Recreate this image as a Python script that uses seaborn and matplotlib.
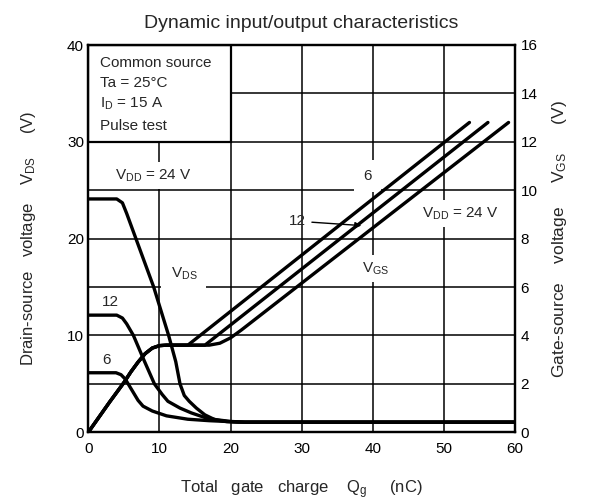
import matplotlib
matplotlib.use("Agg")
import matplotlib.pyplot as plt
from matplotlib.patches import Rectangle
import seaborn as sns

# gate charge (nC) / drain-source voltage (V), one curve per VDD
vds_24_qg = [0, 4.0, 4.8, 5.4, 6.3, 7.2, 9.2, 11.3, 12.3, 12.9, 13.5, 14.2, 15.2, 16.4, 17.8, 19.5, 21, 60]
vds_24_v = [24.1, 24.1, 23.7, 22.6, 20.8, 19.0, 15.0, 10.0, 7.3, 5.0, 3.8, 3.2, 2.5, 1.8, 1.3, 1.1, 1.05, 1.05]

vds_12_qg = [0, 4.0, 4.8, 5.4, 6.35, 7.8, 9.3, 10.4, 11.2, 12.9, 14.5, 16.5, 18, 20, 22, 60]
vds_12_v = [12.1, 12.1, 11.8, 11.2, 10.0, 7.5, 5.0, 3.9, 3.2, 2.5, 2.0, 1.5, 1.3, 1.12, 1.05, 1.05]

vds_6_qg = [0, 3.9, 4.6, 5.2, 6.1, 7.0, 7.7, 9.0, 11.0, 14.0, 17.0, 20.0, 22, 60]
vds_6_v = [6.15, 6.15, 5.95, 5.5, 4.4, 3.3, 2.7, 2.2, 1.7, 1.35, 1.2, 1.1, 1.05, 1.05]

# gate charge (nC) / gate-source voltage (V)
vgs_6_qg = [0, 3, 5, 6, 7, 8, 9, 10, 11, 14.0, 53.6]
vgs_6_v = [0, 1.25, 2.05, 2.5, 2.9, 3.25, 3.48, 3.58, 3.6, 3.6, 12.8]

vgs_12_qg = [0, 3, 5, 6, 7, 8, 9, 10, 11, 16.4, 56.2]
vgs_12_v = [0, 1.25, 2.05, 2.5, 2.9, 3.25, 3.48, 3.58, 3.6, 3.6, 12.8]

vgs_24_qg = [0, 3, 5, 6, 7, 8, 9, 10, 11, 17.0, 18.5, 20.0, 21.5, 59.1]
vgs_24_v = [0, 1.25, 2.05, 2.5, 2.9, 3.25, 3.48, 3.58, 3.6, 3.6, 3.68, 3.9, 4.22, 12.8]

x_ticks = [0, 10, 20, 30, 40, 50, 60]
vds_ticks = [0, 5, 10, 15, 20, 25, 30, 35, 40]
vds_labels = ["0", "", "10", "", "20", "", "30", "", "40"]
vgs_ticks = [0, 2, 4, 6, 8, 10, 12, 14, 16]

sns.set_style("white")
plt.rcParams["font.family"] = ["Liberation Sans", "DejaVu Sans"]
plt.rcParams["mathtext.fontset"] = "custom"
plt.rcParams["mathtext.rm"] = "Liberation Sans"
plt.rcParams["mathtext.it"] = "Liberation Sans"
plt.rcParams["font.size"] = 11

fig = plt.figure(figsize=(6.03, 5.0), dpi=100)
ax = fig.add_axes([0.1464, 0.1354, 0.7076, 0.7746])

lw_curve = 2.4
for qg, v in [(vds_24_qg, vds_24_v), (vds_12_qg, vds_12_v), (vds_6_qg, vds_6_v)]:
    sns.lineplot(x=qg, y=v, ax=ax, color="k", lw=lw_curve, sort=False, estimator=None, zorder=4)

ax.set_xlim(0, 60)
ax.set_ylim(0, 40)
ax.set_xticks(x_ticks)
ax.set_yticks(vds_ticks)
ax.set_yticklabels(vds_labels)
ax.grid(True, color="k", lw=1.1)
ax.tick_params(length=0, labelsize=11, colors="k")
ax.tick_params(axis="x", pad=7)
ax.tick_params(axis="y", pad=3)
for s in ax.spines.values():
    s.set_color("k")
    s.set_linewidth(1.6)

# condition box in the upper left corner
ax.add_patch(Rectangle((0, 30), 20, 10, facecolor="white", edgecolor="k", lw=1.6, zorder=2))
box_lines = ["Common source", "Ta = 25°C", r"$\mathrm{I_D}$ = 15 A", "Pulse test"]
for txt, yb in zip(box_lines, [37.75, 35.7, 33.5, 31.2]):
    ax.text(1.65, yb, txt, fontsize=11, va="baseline", ha="left", zorder=5)

wbox = dict(facecolor="white", edgecolor="none", boxstyle="square,pad=0.35")
ax.text(9.1, 26.5, r"$\mathrm{V_{DD}}$ = 24 V", ha="center", va="center", bbox=wbox, zorder=3)
ax.text(13.45, 16.4, r"$\mathrm{V_{DS}}$", ha="center", va="center",
        bbox=dict(facecolor="white", edgecolor="none", boxstyle="square,pad=0.6"), zorder=3)
ax.text(3.1, 13.5, "12", ha="center", va="center", zorder=3)
ax.text(2.5, 7.5, "6", ha="center", va="center", zorder=3)
ax.text(39.3, 26.5, "6", ha="center", va="center",
        bbox=dict(facecolor="white", edgecolor="none", boxstyle="square,pad=0.6"), zorder=3)
ax.text(52.3, 22.6, r"$\mathrm{V_{DD}}$ = 24 V", ha="center", va="center", bbox=wbox, zorder=3)
ax.text(40.4, 16.9, r"$\mathrm{V_{GS}}$", ha="center", va="center", bbox=wbox, zorder=3)
ax.annotate("12", xy=(38.4, 21.35), xytext=(29.4, 21.8), ha="center", va="center",
            arrowprops=dict(arrowstyle="-|>", color="k", lw=1.0, mutation_scale=9,
                            shrinkA=2, shrinkB=0), zorder=6)

ax.set_title("Dynamic input/output characteristics", fontsize=14, pad=12)
ax.set_xlabel(r"Total   gate   charge    $\mathrm{Q_g}$     (nC)", fontsize=12, labelpad=16)
ax.set_ylabel(r"Drain-source   voltage    $\mathrm{V_{DS}}$     (V)", fontsize=12, labelpad=21)

ax2 = ax.twinx()
for qg, v in [(vgs_6_qg, vgs_6_v), (vgs_12_qg, vgs_12_v), (vgs_24_qg, vgs_24_v)]:
    sns.lineplot(x=qg, y=v, ax=ax2, color="k", lw=lw_curve, sort=False, estimator=None)
ax2.set_ylim(0, 16)
ax2.set_yticks(vgs_ticks)
ax2.grid(False)
ax2.tick_params(length=0, labelsize=11, colors="k", pad=4)
ax2.set_ylabel(r"Gate-source    voltage     $\mathrm{V_{GS}}$      (V)", fontsize=12.5, labelpad=9)
for s in ax2.spines.values():
    s.set_color("k")
    s.set_linewidth(1.6)

fig.savefig("out.png", dpi=100)
